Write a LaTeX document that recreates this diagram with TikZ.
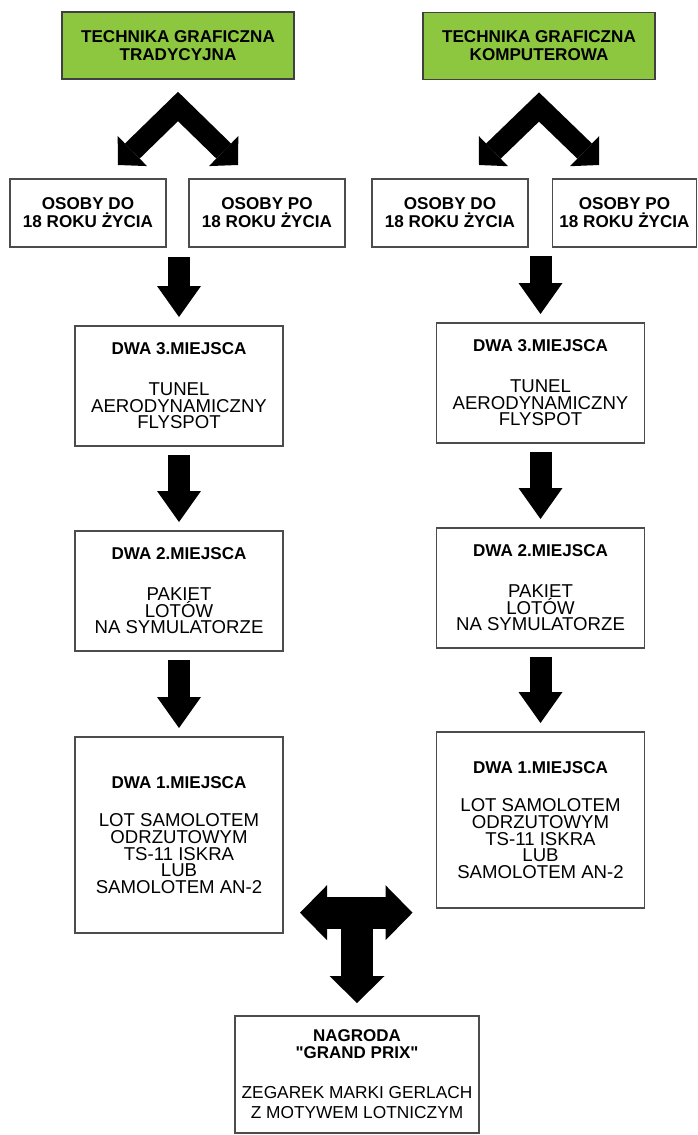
\documentclass[tikz,border=0pt]{standalone}
\usepackage{fontspec}
\setmainfont{Liberation Sans}
\newfontfamily\plainquotes{Liberation Sans}
\usetikzlibrary{arrows.meta}
\definecolor{grassgreen}{RGB}{141,198,63}
\newcommand\headfont{\bfseries\fontsize{17.1pt}{18.2pt}\selectfont}
\newcommand\bodyfont{\fontsize{18.6pt}{16.7pt}\selectfont\lineskiplimit=-30pt}
\newcommand\prizefont{\fontsize{17.3pt}{20pt}\selectfont\lineskiplimit=-30pt}
\newcommand\prizehead{\plainquotes\bfseries\fontsize{17pt}{17pt}\selectfont}
\tikzset{
 box/.style={draw=black!70, line width=1.2pt, inner sep=0pt, outer sep=0pt, align=center},
 topbox/.style={box, fill=grassgreen, draw=black!75, minimum width=232pt, minimum height=67pt, font=\headfont},
 agebox/.style={box, minimum width=156pt, minimum height=68pt, font=\headfont},
 placebox/.style={box, minimum width=208pt, minimum height=120pt, font=\bodyfont},
 fatarrow/.style={line width=22pt, -{Triangle[length=31pt,width=44pt,line width=0pt]}},
 chevron/.style={line width=21pt, line join=miter,
   {Triangle[length=20pt,width=42pt,line width=0pt]}-{Triangle[length=20pt,width=42pt,line width=0pt]}},
 teearrow/.style={line width=32pt, -{Triangle[length=27pt,width=55pt,line width=0pt]}}
}
\begin{document}
\begin{tikzpicture}[x=1pt,y=-1pt]
\useasboundingbox (0,0) rectangle (698,1135);
% kategorie
\node[topbox] (tradL) at (178,45.5) {TECHNIKA GRAFICZNA\\TRADYCYJNA};
\node[topbox] (kompR) at (539,46) {TECHNIKA GRAFICZNA\\KOMPUTEROWA};
\node[agebox] (doL) at (88,213) {OSOBY DO\\18 ROKU ŻYCIA};
\node[agebox] (poL) at (267,213) {OSOBY PO\\18 ROKU ŻYCIA};
\node[agebox] (doR) at (450,213) {OSOBY DO\\18 ROKU ŻYCIA};
\node[agebox, minimum width=144.5pt] (poR) at (624.5,213) {OSOBY PO\\18 ROKU ŻYCIA};
\draw[chevron] ([xshift=30pt,yshift=14pt]doL.north) -- ([yshift=-27.5pt]tradL.south) -- ([xshift=-29pt,yshift=14pt]poL.north);
\draw[chevron] ([xshift=29pt,yshift=14pt]doR.north) -- ([yshift=-27.5pt]kompR.south) -- ([xshift=-25.5pt,yshift=14pt]poR.north);
% nagrody
\node[placebox] (thirdL) at (179,386) {{\headfont DWA 3.MIEJSCA}\\[24pt]TUNEL\\AERODYNAMICZNY\\FLYSPOT};
\node[placebox] (secondL) at (179,591) {{\headfont DWA 2.MIEJSCA}\\[24pt]PAKIET\\LOTÓW\\NA SYMULATORZE};
\node[placebox, minimum height=196pt] (firstL) at (179,835) {{\headfont DWA 1.MIEJSCA}\\[22pt]LOT SAMOLOTEM\\ODRZUTOWYM\\TS-11 ISKRA\\LUB\\SAMOLOTEM AN-2};
\node[placebox] (thirdR) at (540.5,383) {{\headfont DWA 3.MIEJSCA}\\[24pt]TUNEL\\AERODYNAMICZNY\\FLYSPOT};
\node[placebox] (secondR) at (540.5,588) {{\headfont DWA 2.MIEJSCA}\\[24pt]PAKIET\\LOTÓW\\NA SYMULATORZE};
\node[placebox, minimum height=176pt] (firstR) at (540.5,820) {{\headfont DWA 1.MIEJSCA}\\[22pt]LOT SAMOLOTEM\\ODRZUTOWYM\\TS-11 ISKRA\\LUB\\SAMOLOTEM AN-2};
\draw[fatarrow] ([yshift=-10pt]thirdL.north |- doL.south) -- ([yshift=9pt]thirdL.north);
\draw[fatarrow] ([yshift=-9pt]thirdL.south) -- ([yshift=9pt]secondL.north);
\draw[fatarrow] ([yshift=-9pt]secondL.south) -- ([yshift=9pt]firstL.north);
\draw[fatarrow] ([yshift=-9pt]thirdR.north |- doR.south) -- ([yshift=9pt]thirdR.north);
\draw[fatarrow] ([yshift=-9pt]thirdR.south) -- ([yshift=9pt]secondR.north);
\draw[fatarrow] ([yshift=-9pt]secondR.south) -- ([yshift=9pt]firstR.north);
% grand prix
\node[box, minimum width=244pt, minimum height=117pt, font=\prizefont] (prize) at (357,1074.5)
  {{\prizehead NAGRODA}\\[-3pt]{\prizehead "GRAND PRIX"}\\[20pt]ZEGAREK MARKI GERLACH\\Z MOTYWEM LOTNICZYM};
\coordinate (tee) at (357,912.7);
\draw[teearrow] ([xshift=2pt]tee) -- ([xshift=17pt]firstL.east |- tee);
\draw[teearrow] ([xshift=-2pt]tee) -- ([xshift=-24pt]firstR.west |- tee);
\draw[teearrow] ([yshift=16pt]tee) -- ([yshift=13pt]prize.north);
\end{tikzpicture}
\end{document}
